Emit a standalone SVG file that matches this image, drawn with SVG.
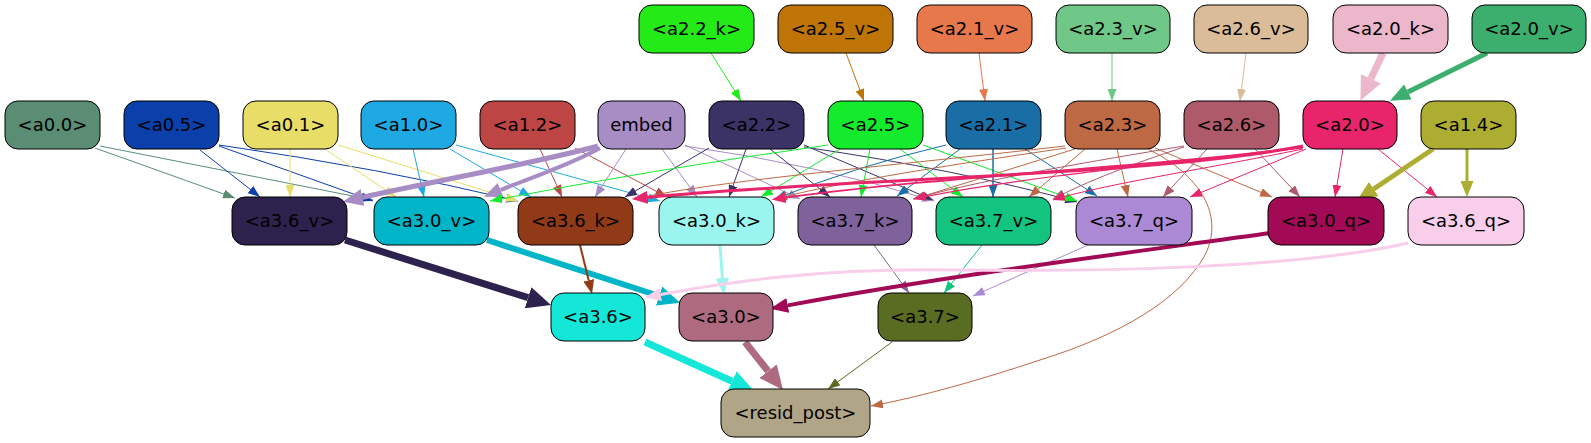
<svg xmlns="http://www.w3.org/2000/svg" width="1591" height="443" viewBox="0 0 1591 443">
<style>
.n{stroke:#000;stroke-width:1;}
.t{font-family:"DejaVu Sans","Liberation Sans",sans-serif;font-size:18px;text-anchor:middle;fill:#000;}
.e{fill:none;}
</style>
<defs>
<marker id="t22k" viewBox="0 0 12 9" refX="12" refY="4.5" markerWidth="12" markerHeight="9" markerUnits="userSpaceOnUse" orient="auto"><path d="M0,0L12,4.5L0,9z" fill="#24eb17"/></marker>
<marker id="t25v" viewBox="0 0 12 9" refX="12" refY="4.5" markerWidth="12" markerHeight="9" markerUnits="userSpaceOnUse" orient="auto"><path d="M0,0L12,4.5L0,9z" fill="#bf7506"/></marker>
<marker id="t21v" viewBox="0 0 12 9" refX="12" refY="4.5" markerWidth="12" markerHeight="9" markerUnits="userSpaceOnUse" orient="auto"><path d="M0,0L12,4.5L0,9z" fill="#e6784c"/></marker>
<marker id="t23v" viewBox="0 0 12 9" refX="12" refY="4.5" markerWidth="12" markerHeight="9" markerUnits="userSpaceOnUse" orient="auto"><path d="M0,0L12,4.5L0,9z" fill="#6fc887"/></marker>
<marker id="t26v" viewBox="0 0 12 9" refX="12" refY="4.5" markerWidth="12" markerHeight="9" markerUnits="userSpaceOnUse" orient="auto"><path d="M0,0L12,4.5L0,9z" fill="#dbbc99"/></marker>
<marker id="t00" viewBox="0 0 12 9" refX="12" refY="4.5" markerWidth="12" markerHeight="9" markerUnits="userSpaceOnUse" orient="auto"><path d="M0,0L12,4.5L0,9z" fill="#5a8d74"/></marker>
<marker id="t05" viewBox="0 0 12 9" refX="12" refY="4.5" markerWidth="12" markerHeight="9" markerUnits="userSpaceOnUse" orient="auto"><path d="M0,0L12,4.5L0,9z" fill="#0b3fa9"/></marker>
<marker id="t01" viewBox="0 0 12 9" refX="12" refY="4.5" markerWidth="12" markerHeight="9" markerUnits="userSpaceOnUse" orient="auto"><path d="M0,0L12,4.5L0,9z" fill="#e8de67"/></marker>
<marker id="t10" viewBox="0 0 12 9" refX="12" refY="4.5" markerWidth="12" markerHeight="9" markerUnits="userSpaceOnUse" orient="auto"><path d="M0,0L12,4.5L0,9z" fill="#1fa9e2"/></marker>
<marker id="t12" viewBox="0 0 12 9" refX="12" refY="4.5" markerWidth="12" markerHeight="9" markerUnits="userSpaceOnUse" orient="auto"><path d="M0,0L12,4.5L0,9z" fill="#bd4644"/></marker>
<marker id="temb" viewBox="0 0 12 9" refX="12" refY="4.5" markerWidth="12" markerHeight="9" markerUnits="userSpaceOnUse" orient="auto"><path d="M0,0L12,4.5L0,9z" fill="#a88cc4"/></marker>
<marker id="t22" viewBox="0 0 12 9" refX="12" refY="4.5" markerWidth="12" markerHeight="9" markerUnits="userSpaceOnUse" orient="auto"><path d="M0,0L12,4.5L0,9z" fill="#3b3266"/></marker>
<marker id="t25" viewBox="0 0 12 9" refX="12" refY="4.5" markerWidth="12" markerHeight="9" markerUnits="userSpaceOnUse" orient="auto"><path d="M0,0L12,4.5L0,9z" fill="#14eb2c"/></marker>
<marker id="t21" viewBox="0 0 12 9" refX="12" refY="4.5" markerWidth="12" markerHeight="9" markerUnits="userSpaceOnUse" orient="auto"><path d="M0,0L12,4.5L0,9z" fill="#1a6ea6"/></marker>
<marker id="t23" viewBox="0 0 12 9" refX="12" refY="4.5" markerWidth="12" markerHeight="9" markerUnits="userSpaceOnUse" orient="auto"><path d="M0,0L12,4.5L0,9z" fill="#bd6944"/></marker>
<marker id="t26" viewBox="0 0 12 9" refX="12" refY="4.5" markerWidth="12" markerHeight="9" markerUnits="userSpaceOnUse" orient="auto"><path d="M0,0L12,4.5L0,9z" fill="#af5a6a"/></marker>
<marker id="t20" viewBox="0 0 12 9" refX="12" refY="4.5" markerWidth="12" markerHeight="9" markerUnits="userSpaceOnUse" orient="auto"><path d="M0,0L12,4.5L0,9z" fill="#e8256a"/></marker>
<marker id="t37k" viewBox="0 0 12 9" refX="12" refY="4.5" markerWidth="12" markerHeight="9" markerUnits="userSpaceOnUse" orient="auto"><path d="M0,0L12,4.5L0,9z" fill="#7f619c"/></marker>
<marker id="t37v" viewBox="0 0 12 9" refX="12" refY="4.5" markerWidth="12" markerHeight="9" markerUnits="userSpaceOnUse" orient="auto"><path d="M0,0L12,4.5L0,9z" fill="#12c47f"/></marker>
<marker id="t37q" viewBox="0 0 12 9" refX="12" refY="4.5" markerWidth="12" markerHeight="9" markerUnits="userSpaceOnUse" orient="auto"><path d="M0,0L12,4.5L0,9z" fill="#ac89d5"/></marker>
<marker id="t37" viewBox="0 0 12 9" refX="12" refY="4.5" markerWidth="12" markerHeight="9" markerUnits="userSpaceOnUse" orient="auto"><path d="M0,0L12,4.5L0,9z" fill="#5a6b22"/></marker>
<marker id="b20k" viewBox="0 0 10 10" preserveAspectRatio="none" refX="0" refY="5" markerWidth="24" markerHeight="22" markerUnits="userSpaceOnUse" orient="auto"><path d="M0,0L10,5L0,10z" fill="#ecb6cb"/></marker>
<marker id="b20v" viewBox="0 0 10 10" preserveAspectRatio="none" refX="0" refY="5" markerWidth="20" markerHeight="17" markerUnits="userSpaceOnUse" orient="auto"><path d="M0,0L10,5L0,10z" fill="#3caf6e"/></marker>
<marker id="bemb5" viewBox="0 0 10 10" preserveAspectRatio="none" refX="0" refY="5" markerWidth="20" markerHeight="17" markerUnits="userSpaceOnUse" orient="auto"><path d="M0,0L10,5L0,10z" fill="#a88cc4"/></marker>
<marker id="bemb4" viewBox="0 0 10 10" preserveAspectRatio="none" refX="0" refY="5" markerWidth="18" markerHeight="15" markerUnits="userSpaceOnUse" orient="auto"><path d="M0,0L10,5L0,10z" fill="#a88cc4"/></marker>
<marker id="b20a" viewBox="0 0 10 10" preserveAspectRatio="none" refX="0" refY="5" markerWidth="16" markerHeight="13" markerUnits="userSpaceOnUse" orient="auto"><path d="M0,0L10,5L0,10z" fill="#e8256a"/></marker>
<marker id="b20b" viewBox="0 0 10 10" preserveAspectRatio="none" refX="0" refY="5" markerWidth="14" markerHeight="11" markerUnits="userSpaceOnUse" orient="auto"><path d="M0,0L10,5L0,10z" fill="#e8256a"/></marker>
<marker id="b14a" viewBox="0 0 10 10" preserveAspectRatio="none" refX="0" refY="5" markerWidth="20" markerHeight="17" markerUnits="userSpaceOnUse" orient="auto"><path d="M0,0L10,5L0,10z" fill="#adae31"/></marker>
<marker id="b14b" viewBox="0 0 10 10" preserveAspectRatio="none" refX="0" refY="5" markerWidth="16" markerHeight="13" markerUnits="userSpaceOnUse" orient="auto"><path d="M0,0L10,5L0,10z" fill="#adae31"/></marker>
<marker id="b36v" viewBox="0 0 10 10" preserveAspectRatio="none" refX="0" refY="5" markerWidth="24" markerHeight="22" markerUnits="userSpaceOnUse" orient="auto"><path d="M0,0L10,5L0,10z" fill="#2d224d"/></marker>
<marker id="b30v" viewBox="0 0 10 10" preserveAspectRatio="none" refX="0" refY="5" markerWidth="22" markerHeight="20" markerUnits="userSpaceOnUse" orient="auto"><path d="M0,0L10,5L0,10z" fill="#00b5c8"/></marker>
<marker id="b36k" viewBox="0 0 10 10" preserveAspectRatio="none" refX="0" refY="5" markerWidth="14" markerHeight="11" markerUnits="userSpaceOnUse" orient="auto"><path d="M0,0L10,5L0,10z" fill="#913a17"/></marker>
<marker id="b30k" viewBox="0 0 10 10" preserveAspectRatio="none" refX="0" refY="5" markerWidth="16" markerHeight="13" markerUnits="userSpaceOnUse" orient="auto"><path d="M0,0L10,5L0,10z" fill="#99f5ee"/></marker>
<marker id="b30q" viewBox="0 0 10 10" preserveAspectRatio="none" refX="0" refY="5" markerWidth="18" markerHeight="15" markerUnits="userSpaceOnUse" orient="auto"><path d="M0,0L10,5L0,10z" fill="#a30a55"/></marker>
<marker id="b36q" viewBox="0 0 10 10" preserveAspectRatio="none" refX="0" refY="5" markerWidth="16" markerHeight="13" markerUnits="userSpaceOnUse" orient="auto"><path d="M0,0L10,5L0,10z" fill="#f8ceeb"/></marker>
<marker id="b36" viewBox="0 0 10 10" preserveAspectRatio="none" refX="0" refY="5" markerWidth="24" markerHeight="22" markerUnits="userSpaceOnUse" orient="auto"><path d="M0,0L10,5L0,10z" fill="#14e7d8"/></marker>
<marker id="b30" viewBox="0 0 10 10" preserveAspectRatio="none" refX="0" refY="5" markerWidth="24" markerHeight="22" markerUnits="userSpaceOnUse" orient="auto"><path d="M0,0L10,5L0,10z" fill="#ae6a7f"/></marker>
</defs>
<rect width="1591" height="443" fill="#fff"/>
<g id="connectors">
<path class="e" d="M711,53L741,101" stroke="#24eb17" marker-end="url(#t22k)"/>
<path class="e" d="M846,53L864,101" stroke="#bf7506" marker-end="url(#t25v)"/>
<path class="e" d="M979,53L985,101" stroke="#e6784c" marker-end="url(#t21v)"/>
<path class="e" d="M1112,53L1112,101" stroke="#6fc887" marker-end="url(#t23v)"/>
<path class="e" d="M1246,53L1240,101" stroke="#dbbc99" marker-end="url(#t26v)"/>
<path class="e" d="M1383,53L1370.8,78.7" stroke="#ecb6cb" stroke-width="7" marker-end="url(#b20k)"/>
<path class="e" d="M1487,53L1407.9,92" stroke="#3caf6e" stroke-width="5" marker-end="url(#b20v)"/>
<path class="e" d="M95,148L235,198" stroke="#5a8d74" marker-end="url(#t00)"/>
<path class="e" d="M100,146L373,200" stroke="#5a8d74" marker-end="url(#t00)"/>
<path class="e" d="M200,150L260,197" stroke="#0b3fa9" marker-end="url(#t05)"/>
<path class="e" d="M219,146L373,201" stroke="#0b3fa9" marker-end="url(#t05)"/>
<path class="e" d="M219,145Q380,168 518,201" stroke="#0b3fa9" marker-end="url(#t05)"/>
<path class="e" d="M290,149L290,197" stroke="#e8de67" marker-end="url(#t01)"/>
<path class="e" d="M325,149L396,197" stroke="#e8de67" marker-end="url(#t01)"/>
<path class="e" d="M338,145L518,201" stroke="#e8de67" marker-end="url(#t01)"/>
<path class="e" d="M413,149L424,197" stroke="#1fa9e2" marker-end="url(#t10)"/>
<path class="e" d="M450,149L531,197" stroke="#1fa9e2" marker-end="url(#t10)"/>
<path class="e" d="M456,145L660,201" stroke="#1fa9e2" marker-end="url(#t10)"/>
<path class="e" d="M540,149L562,197" stroke="#bd4644" marker-end="url(#t12)"/>
<path class="e" d="M575,148L667,197" stroke="#bd4644" marker-end="url(#t12)"/>
<path class="e" d="M598,146C540,162 440,180 362.5,197.4" stroke="#a88cc4" stroke-width="5" marker-end="url(#bemb5)"/>
<path class="e" d="M600,148C570,165 530,178 500.6,190" stroke="#a88cc4" stroke-width="4" marker-end="url(#bemb4)"/>
<path class="e" d="M626,149L595,197" stroke="#a88cc4" marker-end="url(#temb)"/>
<path class="e" d="M662,149L697,197" stroke="#a88cc4" marker-end="url(#temb)"/>
<path class="e" d="M685,145L800,199" stroke="#a88cc4" marker-end="url(#temb)"/>
<path class="e" d="M685,146Q820,165 934,201" stroke="#a88cc4" marker-end="url(#temb)"/>
<path class="e" d="M709,148L625,197" stroke="#3b3266" marker-end="url(#t22)"/>
<path class="e" d="M746,149L729,197" stroke="#3b3266" marker-end="url(#t22)"/>
<path class="e" d="M770,149L830,197" stroke="#3b3266" marker-end="url(#t22)"/>
<path class="e" d="M804,145L933,200" stroke="#3b3266" marker-end="url(#t22)"/>
<path class="e" d="M804,147Q960,170 1077,202" stroke="#3b3266" marker-end="url(#t22)"/>
<path class="e" d="M828,145Q650,170 490,201" stroke="#14eb2c" marker-end="url(#t25)"/>
<path class="e" d="M840,149L761,197" stroke="#14eb2c" marker-end="url(#t25)"/>
<path class="e" d="M870,149L861,197" stroke="#14eb2c" marker-end="url(#t25)"/>
<path class="e" d="M900,149L963,197" stroke="#14eb2c" marker-end="url(#t25)"/>
<path class="e" d="M923,145L1077,201" stroke="#14eb2c" marker-end="url(#t25)"/>
<path class="e" d="M946,145Q860,165 775,199" stroke="#1a6ea6" marker-end="url(#t21)"/>
<path class="e" d="M960,149L897,196" stroke="#1a6ea6" marker-end="url(#t21)"/>
<path class="e" d="M993,149L993,197" stroke="#1a6ea6" stroke-width="1.5" marker-end="url(#t21)"/>
<path class="e" d="M1025,149L1097,196" stroke="#1a6ea6" marker-end="url(#t21)"/>
<path class="e" d="M1065,146C900,165 720,180 634,199" stroke="#bd6944" marker-end="url(#t23)"/>
<path class="e" d="M1066,148C950,165 840,182 775,199" stroke="#bd6944" marker-end="url(#t23)"/>
<path class="e" d="M1075,149L914,199" stroke="#bd6944" marker-end="url(#t23)"/>
<path class="e" d="M1085,149L1029,197" stroke="#bd6944" marker-end="url(#t23)"/>
<path class="e" d="M1117,149L1128,197" stroke="#bd6944" marker-end="url(#t23)"/>
<path class="e" d="M1155,148L1272,197" stroke="#bd6944" marker-end="url(#t23)"/>
<path class="e" d="M1148,149C1200,175 1225,215 1205,255C1180,300 1120,335 1040,360C980,380 920,397 871,406" stroke="#bd6944" marker-end="url(#t23)"/>
<path class="e" d="M1184,146C1100,160 980,180 913,199" stroke="#af5a6a" marker-end="url(#t26)"/>
<path class="e" d="M1184,147C1130,165 1090,180 1053,199" stroke="#af5a6a" marker-end="url(#t26)"/>
<path class="e" d="M1207,149L1163,197" stroke="#af5a6a" marker-end="url(#t26)"/>
<path class="e" d="M1255,149L1300,197" stroke="#af5a6a" marker-end="url(#t26)"/>
<path class="e" d="M1303,146C1150,176 850,178 647.8,197.4" stroke="#e8256a" stroke-width="3" marker-end="url(#b20a)"/>
<path class="e" d="M1303,147C1150,168 950,175 785.6,197.6" stroke="#e8256a" stroke-width="2" marker-end="url(#b20b)"/>
<path class="e" d="M1303,148C1150,165 1000,180 914,199" stroke="#e8256a" stroke-width="1.2" marker-end="url(#t20)"/>
<path class="e" d="M1303,149C1200,170 1100,185 1053,200" stroke="#e8256a" marker-end="url(#t20)"/>
<path class="e" d="M1306,149L1190,197" stroke="#e8256a" marker-end="url(#t20)"/>
<path class="e" d="M1343,149L1335,197" stroke="#e8256a" marker-end="url(#t20)"/>
<path class="e" d="M1378,149L1437,197" stroke="#e8256a" marker-end="url(#t20)"/>
<path class="e" d="M1433,149L1373.7,189" stroke="#adae31" stroke-width="5" marker-end="url(#b14a)"/>
<path class="e" d="M1467,149L1467,181" stroke="#adae31" stroke-width="3" marker-end="url(#b14b)"/>
<path class="e" d="M345,240L528.1,297.7" stroke="#2d224d" stroke-width="7" marker-end="url(#b36v)"/>
<path class="e" d="M487,240L659.1,296" stroke="#00b5c8" stroke-width="6" marker-end="url(#b30v)"/>
<path class="e" d="M580,245L588.7,280.4" stroke="#913a17" stroke-width="2" marker-end="url(#b36k)"/>
<path class="e" d="M720,245L722.4,278.1" stroke="#99f5ee" stroke-width="3" marker-end="url(#b30k)"/>
<path class="e" d="M874,245L909,293" stroke="#7f619c" marker-end="url(#t37k)"/>
<path class="e" d="M982,245L944,293" stroke="#12c47f" marker-end="url(#t37v)"/>
<path class="e" d="M1088,245L973,296" stroke="#ac89d5" marker-end="url(#t37q)"/>
<path class="e" d="M1270,233C1150,250 950,275 787.8,305.4" stroke="#a30a55" stroke-width="4" marker-end="url(#b30q)"/>
<path class="e" d="M1408,243C1300,268 1100,272 950,270C820,268 730,282 660.8,294.5" stroke="#f8ceeb" stroke-width="3" marker-end="url(#b36q)"/>
<path class="e" d="M645,342L732.1,381.2" stroke="#14e7d8" stroke-width="7" marker-end="url(#b36)"/>
<path class="e" d="M745,342L768.1,371.2" stroke="#ae6a7f" stroke-width="7" marker-end="url(#b30)"/>
<path class="e" d="M892,342L828,389" stroke="#5a6b22" marker-end="url(#t37)"/>
</g>
<g id="n-a2.2_k"><rect class="n" x="639" y="5" width="115" height="48" rx="13" fill="#24eb17"/><text class="t" x="696.5" y="35">&lt;a2.2_k&gt;</text></g>
<g id="n-a2.5_v"><rect class="n" x="778" y="5" width="115" height="48" rx="13" fill="#bf7506"/><text class="t" x="835.5" y="35">&lt;a2.5_v&gt;</text></g>
<g id="n-a2.1_v"><rect class="n" x="917" y="5" width="115" height="48" rx="13" fill="#e6784c"/><text class="t" x="974.5" y="35">&lt;a2.1_v&gt;</text></g>
<g id="n-a2.3_v"><rect class="n" x="1056" y="5" width="114" height="48" rx="13" fill="#6fc887"/><text class="t" x="1113" y="35">&lt;a2.3_v&gt;</text></g>
<g id="n-a2.6_v"><rect class="n" x="1194" y="5" width="114" height="48" rx="13" fill="#dbbc99"/><text class="t" x="1251" y="35">&lt;a2.6_v&gt;</text></g>
<g id="n-a2.0_k"><rect class="n" x="1333" y="5" width="115" height="48" rx="13" fill="#ecb6cb"/><text class="t" x="1390.5" y="35">&lt;a2.0_k&gt;</text></g>
<g id="n-a2.0_v"><rect class="n" x="1472" y="5" width="114" height="48" rx="13" fill="#3caf6e"/><text class="t" x="1529" y="35">&lt;a2.0_v&gt;</text></g>
<g id="n-a0.0"><rect class="n" x="5" y="101" width="95" height="48" rx="13" fill="#5a8d74"/><text class="t" x="52.5" y="131">&lt;a0.0&gt;</text></g>
<g id="n-a0.5"><rect class="n" x="124" y="101" width="95" height="48" rx="13" fill="#0b3fa9"/><text class="t" x="171.5" y="131">&lt;a0.5&gt;</text></g>
<g id="n-a0.1"><rect class="n" x="243" y="101" width="95" height="48" rx="13" fill="#e8de67"/><text class="t" x="290.5" y="131">&lt;a0.1&gt;</text></g>
<g id="n-a1.0"><rect class="n" x="361" y="101" width="95" height="48" rx="13" fill="#1fa9e2"/><text class="t" x="408.5" y="131">&lt;a1.0&gt;</text></g>
<g id="n-a1.2"><rect class="n" x="480" y="101" width="95" height="48" rx="13" fill="#bd4644"/><text class="t" x="527.5" y="131">&lt;a1.2&gt;</text></g>
<g id="n-embed"><rect class="n" x="598" y="101" width="87" height="48" rx="13" fill="#a88cc4"/><text class="t" x="641.5" y="131">embed</text></g>
<g id="n-a2.2"><rect class="n" x="709" y="101" width="95" height="48" rx="13" fill="#3b3266"/><text class="t" x="756.5" y="131">&lt;a2.2&gt;</text></g>
<g id="n-a2.5"><rect class="n" x="828" y="101" width="95" height="48" rx="13" fill="#14eb2c"/><text class="t" x="875.5" y="131">&lt;a2.5&gt;</text></g>
<g id="n-a2.1"><rect class="n" x="946" y="101" width="95" height="48" rx="13" fill="#1a6ea6"/><text class="t" x="993.5" y="131">&lt;a2.1&gt;</text></g>
<g id="n-a2.3"><rect class="n" x="1065" y="101" width="95" height="48" rx="13" fill="#bd6944"/><text class="t" x="1112.5" y="131">&lt;a2.3&gt;</text></g>
<g id="n-a2.6"><rect class="n" x="1184" y="101" width="95" height="48" rx="13" fill="#af5a6a"/><text class="t" x="1231.5" y="131">&lt;a2.6&gt;</text></g>
<g id="n-a2.0"><rect class="n" x="1303" y="101" width="94" height="48" rx="13" fill="#e8256a"/><text class="t" x="1350" y="131">&lt;a2.0&gt;</text></g>
<g id="n-a1.4"><rect class="n" x="1421" y="101" width="95" height="48" rx="13" fill="#adae31"/><text class="t" x="1468.5" y="131">&lt;a1.4&gt;</text></g>
<g id="n-a3.6_v"><rect class="n" x="232" y="197" width="115" height="48" rx="13" fill="#2d224d"/><text class="t" x="289.5" y="227">&lt;a3.6_v&gt;</text></g>
<g id="n-a3.0_v"><rect class="n" x="374" y="197" width="115" height="48" rx="13" fill="#00b5c8"/><text class="t" x="431.5" y="227">&lt;a3.0_v&gt;</text></g>
<g id="n-a3.6_k"><rect class="n" x="518" y="197" width="115" height="48" rx="13" fill="#913a17"/><text class="t" x="575.5" y="227">&lt;a3.6_k&gt;</text></g>
<g id="n-a3.0_k"><rect class="n" x="659" y="197" width="115" height="48" rx="13" fill="#99f5ee"/><text class="t" x="716.5" y="227">&lt;a3.0_k&gt;</text></g>
<g id="n-a3.7_k"><rect class="n" x="798" y="197" width="114" height="48" rx="13" fill="#7f619c"/><text class="t" x="855" y="227">&lt;a3.7_k&gt;</text></g>
<g id="n-a3.7_v"><rect class="n" x="936" y="197" width="115" height="48" rx="13" fill="#12c47f"/><text class="t" x="993.5" y="227">&lt;a3.7_v&gt;</text></g>
<g id="n-a3.7_q"><rect class="n" x="1076" y="197" width="116" height="48" rx="13" fill="#ac89d5"/><text class="t" x="1134" y="227">&lt;a3.7_q&gt;</text></g>
<g id="n-a3.0_q"><rect class="n" x="1268" y="197" width="116" height="48" rx="13" fill="#a30a55"/><text class="t" x="1326" y="227">&lt;a3.0_q&gt;</text></g>
<g id="n-a3.6_q"><rect class="n" x="1408" y="197" width="116" height="48" rx="13" fill="#f8ceeb"/><text class="t" x="1466" y="227">&lt;a3.6_q&gt;</text></g>
<g id="n-a3.6"><rect class="n" x="551" y="293" width="94" height="48" rx="13" fill="#14e7d8"/><text class="t" x="598" y="323">&lt;a3.6&gt;</text></g>
<g id="n-a3.0"><rect class="n" x="679" y="293" width="94" height="48" rx="13" fill="#ae6a7f"/><text class="t" x="726" y="323">&lt;a3.0&gt;</text></g>
<g id="n-a3.7"><rect class="n" x="878" y="293" width="94" height="48" rx="13" fill="#5a6b22"/><text class="t" x="925" y="323">&lt;a3.7&gt;</text></g>
<g id="n-resid_post"><rect class="n" x="721" y="389" width="149" height="48" rx="13" fill="#b1a587"/><text class="t" x="795.5" y="419">&lt;resid_post&gt;</text></g>
</svg>
